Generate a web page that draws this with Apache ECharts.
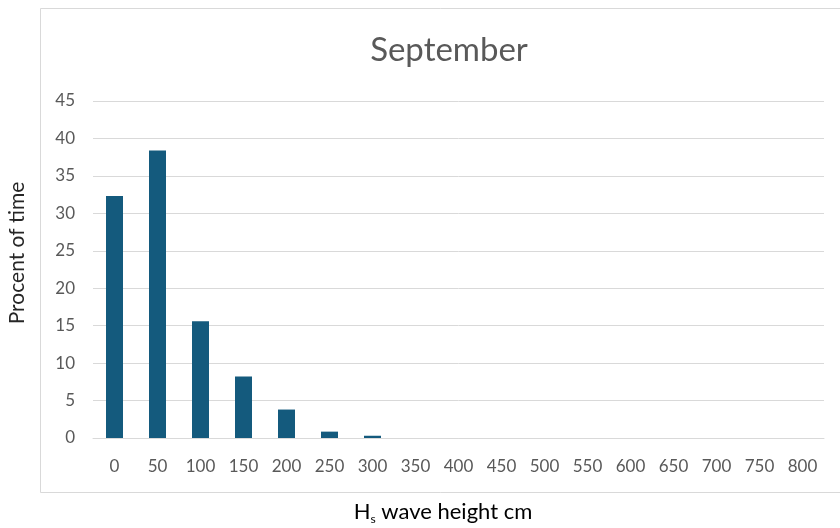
<!DOCTYPE html>
<html><head><meta charset="utf-8">
<script src="https://cdn.jsdelivr.net/npm/echarts@6/dist/echarts.min.js"></script>
<style>html,body{margin:0;padding:0;background:#fff}#c{width:840px;height:528px}</style>
</head><body><div id="c"></div>
<script>
const categories = ['0','50','100','150','200','250','300','350','400','450','500','550','600','650','700','750','800'];
const values = [32.3, 38.4, 15.6, 8.2, 3.8, 0.85, 0.3, 0, 0, 0, 0, 0, 0, 0, 0, 0, 0];
const yTicks = {min: 0, max: 45, interval: 5};
const chart = echarts.init(document.getElementById('c'), null, {renderer:'canvas'});
const FONT = 'Lato, "Open Sans", sans-serif';
chart.setOption({
  animation: false,
  backgroundColor: '#fff',
  graphic: [
    {type:'rect', shape:{x:40.5, y:8.5, width:820, height:484}, style:{fill:'none', stroke:'#d9d9d9', lineWidth:1}, z:-1},
    {type:'text', x:17, y:253, rotation:Math.PI/2, style:{text:'Procent of time', fill:'#262626', font:'21px '+FONT, align:'center', verticalAlign:'middle'}},
    {type:'text', x:443, y:512, style:{text:'{a|H}{b|s}{a| wave height cm}', align:'center', verticalAlign:'middle',
      rich:{a:{fontSize:22, fontFamily:FONT, color:'#262626'}, b:{fontSize:12, fontFamily:FONT, color:'#262626', padding:[15,0,0,0]}}}}
  ],
  title: {text:'September', left:444, top:29, textAlign:'center',
    textStyle:{fontSize:33, fontWeight:'normal', color:'#595959', fontFamily:FONT}},
  grid: {left:93, right:16, top:101, bottom:90, containLabel:false},
  xAxis: {type:'category', data:categories, boundaryGap:true,
    axisLine:{lineStyle:{color:'#d9d9d9', width:1}}, axisTick:{show:false},
    axisLabel:{color:'#595959', fontSize:17, fontFamily:FONT, margin:20, interval:0}},
  yAxis: {type:'value', min:yTicks.min, max:yTicks.max, interval:yTicks.interval,
    axisLine:{show:false}, axisTick:{show:false},
    splitLine:{lineStyle:{color:'#d9d9d9', width:1}},
    axisLabel:{color:'#595959', fontSize:17, fontFamily:FONT, margin:18}},
  series: [{type:'bar', data:values, barWidth:17, itemStyle:{color:'#145a7d'}}]
});
</script></body></html>
